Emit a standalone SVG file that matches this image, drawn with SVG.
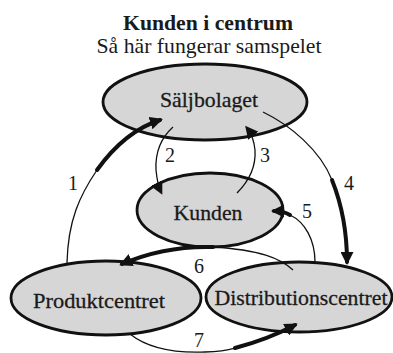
<svg xmlns="http://www.w3.org/2000/svg" width="393" height="353" viewBox="0 0 393 353">
<style>
  .node { fill: #d6d6d6; stroke: #111; stroke-width: 2.8; }
  text { fill: #1a1a1a; text-anchor: middle; font-family: 'Liberation Serif', 'Times New Roman', serif; }
  .lbl { font-size: 22px; stroke: #1a1a1a; stroke-width: 0.3; }
  .num { font-size: 20px; }
  .thin { fill: none; stroke: #111; stroke-width: 1.3; }
  .thick { fill: none; stroke: #111; stroke-width: 4; stroke-linecap: round; }
</style>
<defs>
  <marker id="ah" markerUnits="userSpaceOnUse" markerWidth="13" markerHeight="13" refX="10" refY="6.5" orient="auto">
    <path d="M0,0 L13,6.5 L0,13 z" fill="#111"/>
  </marker>
</defs>

<g id="title">
  <text x="208" y="30" font-size="21" font-weight="bold" textLength="170" lengthAdjust="spacingAndGlyphs">Kunden i centrum</text>
  <text x="209" y="53" font-size="21" textLength="225" lengthAdjust="spacingAndGlyphs">Så här fungerar samspelet</text>
</g>

<g id="saljbolaget">
  <ellipse cx="205" cy="102" rx="102" ry="38" class="node"/>
  <text x="209" y="107" class="lbl" textLength="98" lengthAdjust="spacingAndGlyphs">Säljbolaget</text>
</g>
<g id="kunden">
  <ellipse cx="210" cy="210" rx="73" ry="37" class="node"/>
  <text x="208" y="220" class="lbl" textLength="69" lengthAdjust="spacingAndGlyphs">Kunden</text>
</g>
<g id="produktcentret">
  <ellipse cx="106" cy="298" rx="95" ry="37" class="node"/>
  <text x="99" y="308" class="lbl" textLength="132" lengthAdjust="spacingAndGlyphs">Produktcentret</text>
</g>
<g id="distributionscentret">
  <ellipse cx="299" cy="297" rx="93" ry="35" class="node"/>
  <text x="301" y="305" class="lbl" textLength="173" lengthAdjust="spacingAndGlyphs">Distributionscentret</text>
</g>

<g id="connectors">
  <!-- 1 -->
  <path class="thin" d="M67 263 C68 220, 80 195, 97 170"/>
  <path class="thick" d="M97 170 C115 145, 135 128, 160 120" marker-end="url(#ah)"/>
  <!-- 2 -->
  <path class="thin" d="M173 127 C162 137, 155 150, 156 170 C157 180, 158 186, 161 192" marker-end="url(#ah)"/>
  <!-- 3 -->
  <path class="thin" d="M237 193 C250 180, 256 165, 255 150 C254 140, 251 133, 247 128" marker-end="url(#ah)"/>
  <!-- 4 -->
  <path class="thin" d="M263 112 C290 125, 320 150, 332 180"/>
  <path class="thick" d="M332 180 C342 205, 347 230, 347 262" marker-end="url(#ah)"/>
  <!-- 5 -->
  <path class="thin" d="M315 262 C315 240, 305 222, 290 215"/>
  <path class="thick" d="M290 215 C285 212, 280 211, 274 211" marker-end="url(#ah)"/>
  <!-- 6 -->
  <path class="thin" d="M293 270 C280 258, 260 250, 213 247"/>
  <path class="thick" d="M213 247 C180 246, 150 252, 122 264" marker-end="url(#ah)"/>
  <!-- 7 -->
  <path class="thin" d="M130 334 C150 350, 180 353, 205 352 C220 351.5, 228 350, 235 348"/>
  <path class="thick" d="M235 348 C258 342, 278 334, 295 325" marker-end="url(#ah)"/>
</g>

<g id="labels">
  <text x="73" y="190" class="num">1</text>
  <text x="170" y="162" class="num">2</text>
  <text x="265" y="162" class="num">3</text>
  <text x="349" y="190" class="num">4</text>
  <text x="307" y="218" class="num">5</text>
  <text x="199" y="273" class="num">6</text>
  <text x="199" y="347" class="num">7</text>
</g>
</svg>
